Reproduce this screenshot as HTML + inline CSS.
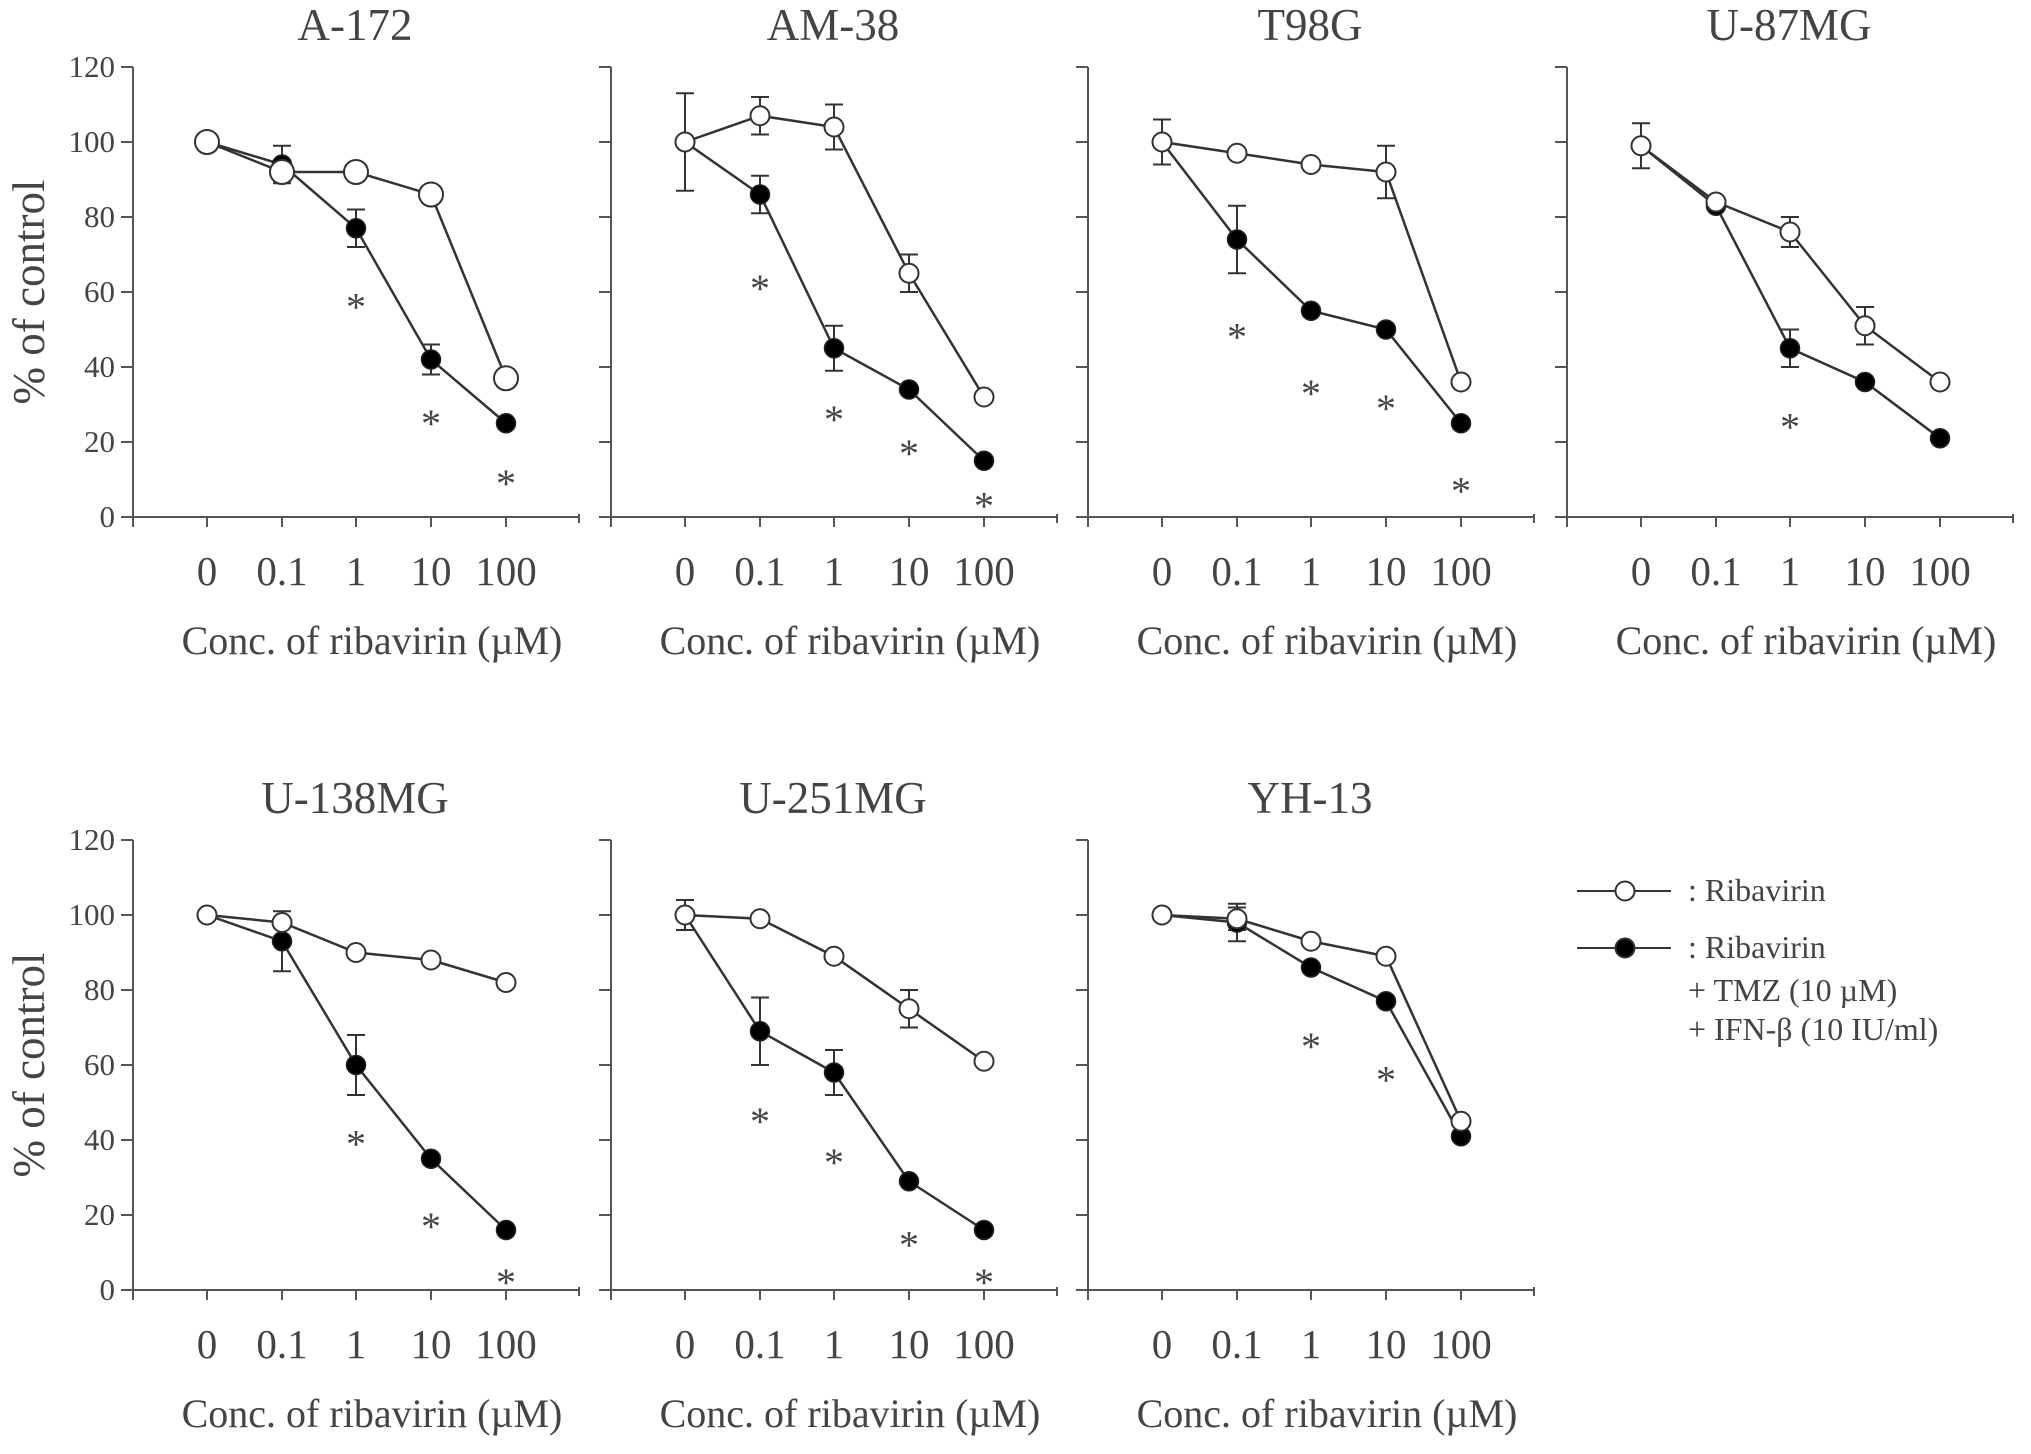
<!DOCTYPE html>
<html><head><meta charset="utf-8"><style>
html,body{margin:0;padding:0;background:#fff;width:2031px;height:1454px;overflow:hidden}
svg text{font-family:"Liberation Serif",serif;fill:#444}
</style></head><body>
<svg id="fig" width="2031" height="1454" viewBox="0 0 2031 1454" xmlns="http://www.w3.org/2000/svg"></svg>
<script>
const categories = ["0","0.1","1","10","100"];
const yTicks = [0,20,40,60,80,100,120];
const titles = ["A-172","AM-38","T98G","U-87MG","U-138MG","U-251MG","YH-13"];
const ribavirin = [
 [100,92,92,86,37],[100,107,104,65,32],[100,97,94,92,36],[99,84,76,51,36],
 [100,98,90,88,82],[100,99,89,75,61],[100,99,93,89,45]];
const ribavirinErr = [
 [0,0,0,0,0],[13,5,6,5,0],[6,0,0,7,0],[6,0,4,5,0],
 [0,0,0,0,0],[4,0,0,5,0],[0,3,0,0,0]];
const combo = [
 [100,94,77,42,25],[100,86,45,34,15],[100,74,55,50,25],[99,83,45,36,21],
 [100,93,60,35,16],[100,69,58,29,16],[100,98,86,77,41]];
const comboErr = [
 [0,5,5,4,0],[0,5,6,0,0],[0,9,0,0,0],[0,0,5,0,0],
 [0,8,8,0,0],[0,9,6,0,0],[0,5,0,0,0]];
const stars = [
 [null,null,58,27,11],[null,63,28,19,5],[null,50,35,31,9],[null,null,26,null,null],
 [null,null,41,19,4],[null,47,36,14,4],[null,null,67,58,null]];

const svg = document.getElementById('fig');
const NS = 'http://www.w3.org/2000/svg';
function mk(tag, attrs, parent){const e=document.createElementNS(NS,tag);for(const k in attrs)e.setAttribute(k,attrs[k]);(parent||svg).appendChild(e);return e;}
const axisX = [133,611,1088,1567];
const rowTop = [67,840], rowBot = [517,1290];
const xOff = [74,149,223,298,373];
const STROKE = '#333';

titles.forEach((t,i)=>{
  const col = i<4 ? i : i-4, row = i<4 ? 0 : 1;
  const ax = axisX[col], y0 = rowBot[row], y1 = rowTop[row];
  const g = mk('g',{});
  
  
  const X = k => ax + xOff[k];
  const Y = v => y0 - (v/120)*(y0-y1);
  const title = mk('text',{x:ax+222,y:y1-27,'font-size':45,'text-anchor':'middle'},g);
  title.textContent = t;
  
  
  const yAxis = mk('line',{x1:ax,y1:y1,x2:ax,y2:y0,stroke:'#555','stroke-width':2},g);
  
  
  const xAxis = mk('line',{x1:ax,y1:y0,x2:ax+446,y2:y0,stroke:'#555','stroke-width':2},g);
  
  
  mk('line',{x1:ax+446,y1:y0-3,x2:ax+446,y2:y0+6,stroke:'#555','stroke-width':2},g);
  mk('line',{x1:ax,y1:y0,x2:ax,y2:y0+10,stroke:'#555','stroke-width':2},g);
  yTicks.forEach(v=>{
    mk('line',{x1:ax-12,y1:Y(v),x2:ax,y2:Y(v),stroke:'#555','stroke-width':2},g);
    if(col===0){const tl=mk('text',{x:ax-18,y:Y(v)+10,'font-size':31,'text-anchor':'end'},g);tl.textContent=v;
      
      }
  });
  categories.forEach((c,k)=>{
    mk('line',{x1:X(k),y1:y0,x2:X(k),y2:y0+10,stroke:'#555','stroke-width':2},g);
    const tl=mk('text',{x:X(k),y:y0+68,'font-size':41,'text-anchor':'middle'},g);tl.textContent=c;
    
    
  });
  const xl=mk('text',{x:ax+239,y:y0+137,'font-size':40,'text-anchor':'middle'},g);
  xl.textContent='Conc. of ribavirin (\u00B5M)';
  
  
  if(col===0){
    const yl=mk('text',{x:0,y:0,'font-size':45,'text-anchor':'middle',transform:`translate(44,${(y0+y1)/2}) rotate(-90)`},g);
    yl.textContent='% of control';
    
    
  }
  [[combo[i],comboErr[i]],[ribavirin[i],ribavirinErr[i]]].forEach(([vals,errs])=>{
    vals.forEach((v,k)=>{ if(errs[k]>0){
      [1,-1].forEach(s=>{
        const ye=Y(v+s*errs[k]);
        mk('line',{x1:X(k),y1:Y(v),x2:X(k),y2:ye,stroke:STROKE,'stroke-width':2},g);
        mk('line',{x1:X(k)-9,y1:ye,x2:X(k)+9,y2:ye,stroke:STROKE,'stroke-width':2},g);
      });
    }});
  });
  const pl2=mk('polyline',{points:combo[i].map((v,k)=>X(k)+','+Y(v)).join(' '),fill:'none',stroke:STROKE,'stroke-width':2.5},g);
  
  
  const pl1=mk('polyline',{points:ribavirin[i].map((v,k)=>X(k)+','+Y(v)).join(' '),fill:'none',stroke:STROKE,'stroke-width':2.5},g);
  
  
  combo[i].forEach((v,k)=>{const c=mk('circle',{cx:X(k),cy:Y(v),r:9.5,fill:'#000',stroke:'#222','stroke-width':1.5},g);
    
    });
  ribavirin[i].forEach((v,k)=>{const c=mk('circle',{cx:X(k),cy:Y(v),r:i===0?12:9.5,fill:'#fff',stroke:'#333','stroke-width':2},g);
    
    });
  stars[i].forEach((v,k)=>{ if(v!==null){
    const s=mk('text',{x:X(k),y:Y(v)+21,'font-size':40,'text-anchor':'middle'},g);s.textContent='*';
    
    
  }});
});
const lg = mk('g',{});


[[891,'#fff'],[948,'#000']].forEach(([y,f])=>{
  mk('line',{x1:1577,y1:y,x2:1671,y2:y,stroke:STROKE,'stroke-width':2},lg);
  const c=mk('circle',{cx:1625,cy:y,r:9.5,fill:f,stroke:'#333','stroke-width':2},lg);
  
  
});
[[891,': Ribavirin'],[948,': Ribavirin'],[991,'+ TMZ (10 \u00B5M)'],[1030,'+ IFN-\u03B2 (10 IU/ml)']].forEach(([y,t])=>{
  const e=mk('text',{x:1688,y:y+10,'font-size':32},lg);e.textContent=t;
  
  
});
</script>
</body></html>
